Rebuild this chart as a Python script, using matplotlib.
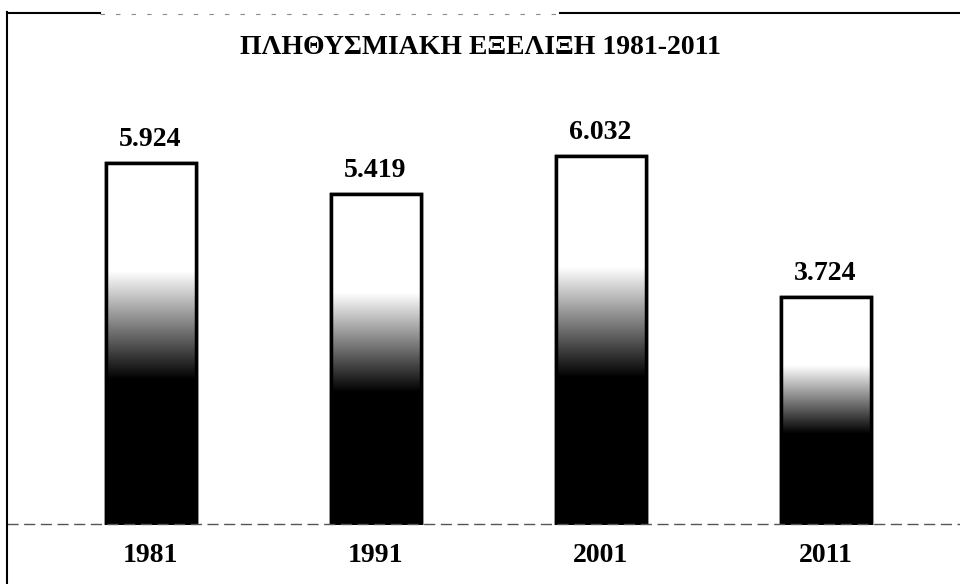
import numpy as np
import matplotlib.pyplot as plt
from matplotlib.lines import Line2D

years = ['1981', '1991', '2001', '2011']
population = [5924, 5419, 6032, 3724]
value_labels = ['5.924', '5.419', '6.032', '3.724']
title = 'ΠΛΗΘΥΣΜΙΑΚΗ ΕΞΕΛΙΞΗ 1981-2011'

plt.rcParams['font.family'] = ['Liberation Serif', 'DejaVu Serif']

fig = plt.figure(figsize=(9.6, 5.84), dpi=100)
ax = fig.add_axes([38 / 960, 1 - 525 / 584, 900 / 960, 428 / 584])

x = np.arange(len(years))
bars = ax.bar(x, population, width=0.4, color='white', edgecolor='black',
              linewidth=2.5, zorder=2)

# vertical fill: dark at the bottom fading to white at the top
f = np.linspace(0, 1, 256)[:, None]
grad = np.clip((f - 0.40) / 0.30, 0, 1)
for b in bars:
    x0, y0 = b.get_x(), b.get_y()
    im = ax.imshow(grad, cmap='gray', vmin=0, vmax=1, origin='lower', aspect='auto',
                   extent=[x0, x0 + b.get_width(), y0, y0 + b.get_height()],
                   zorder=2.5, interpolation='bilinear')
    im.set_clip_path(b)

for b in bars:
    ax.bar(b.get_x() + b.get_width() / 2, b.get_height(), width=b.get_width(),
           color='none', edgecolor='black', linewidth=2.5, zorder=3)

for xi, v, lab in zip(x, population, value_labels):
    ax.annotate(lab, (xi, v), xytext=(0, 8), textcoords='offset points',
                ha='center', va='bottom', fontsize=20, fontweight='bold')

ax.set_xlim(-0.5, 3.5)
ax.set_ylim(0, 7000)
ax.axis('off')

for xi, yr in zip(x, years):
    ax.annotate(yr, (xi, 0), xytext=(0, -13), textcoords='offset points',
                ha='center', va='top', fontsize=20, fontweight='bold')

fig.text(0.5, 1 - 48 / 584, title, ha='center', va='center',
         fontsize=20, fontweight='bold')

# outer frame pieces and dashed baseline
fig.add_artist(Line2D([7 / 960, 7 / 960], [0, 1 - 12 / 584], color='black', lw=1.5))
fig.add_artist(Line2D([7 / 960, 100 / 960], [1 - 13 / 584] * 2, color='black', lw=1.5))
fig.add_artist(Line2D([100 / 960, 560 / 960], [1 - 14 / 584] * 2, color='#888888',
                      lw=0.8, ls=(0, (4, 10))))
fig.add_artist(Line2D([560 / 960, 1], [1 - 13 / 584] * 2, color='black', lw=1.5))
fig.add_artist(Line2D([7 / 960, 1], [1 - 524 / 584] * 2, color='#555555',
                      lw=1, ls=(0, (8, 4)), zorder=1))

fig.savefig('out.png', dpi=100, facecolor='white')
